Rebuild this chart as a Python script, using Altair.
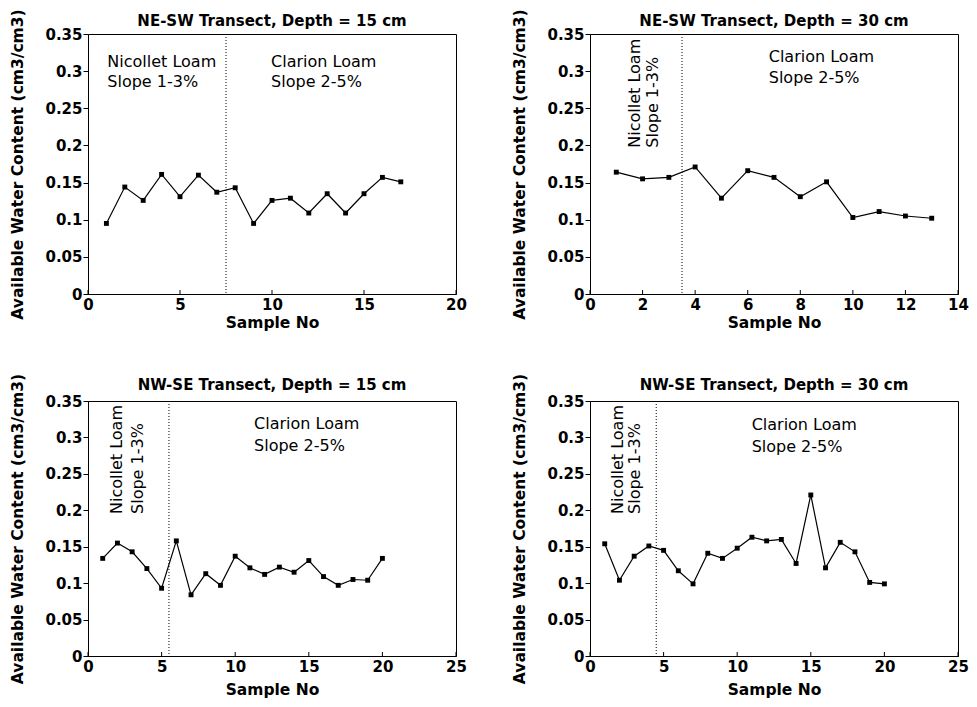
import altair as alt
import pandas as pd

# ---- data ----
ne15 = [0.095, 0.144, 0.126, 0.161, 0.131, 0.160, 0.137, 0.143, 0.095, 0.126,
        0.129, 0.109, 0.135, 0.109, 0.135, 0.157, 0.151]
ne30 = [0.164, 0.155, 0.157, 0.171, 0.129, 0.166, 0.157, 0.131, 0.151, 0.103,
        0.111, 0.105, 0.102]
nw15 = [0.134, 0.155, 0.143, 0.120, 0.093, 0.158, 0.084, 0.113, 0.097, 0.137,
        0.121, 0.112, 0.122, 0.115, 0.131, 0.109, 0.097, 0.105, 0.104, 0.134]
nw30 = [0.154, 0.104, 0.137, 0.151, 0.145, 0.117, 0.099, 0.141, 0.134, 0.148,
        0.163, 0.158, 0.160, 0.127, 0.221, 0.121, 0.156, 0.143, 0.101, 0.099]

titles = ["NE-SW Transect, Depth = 15 cm", "NE-SW Transect, Depth = 30 cm",
          "NW-SE Transect, Depth = 15 cm", "NW-SE Transect, Depth = 30 cm"]
x_max = [20, 14, 25, 25]
x_ticks = [[0, 5, 10, 15, 20], [0, 2, 4, 6, 8, 10, 12, 14],
           [0, 5, 10, 15, 20, 25], [0, 5, 10, 15, 20, 25]]
y_ticks = [0, 0.05, 0.1, 0.15, 0.2, 0.25, 0.3, 0.35]
boundaries = [7.5, 3.5, 5.5, 4.5]

nicollet_lines = ["Nicollet Loam", "Slope 1-3%"]
clarion_lines = ["Clarion Loam", "Slope 2-5%"]
# annotation anchors (data coordinates)
nic_pos = [  # (x1, x2, y1, y2, rotated)
    (1.05, 1.05, 0.312, 0.2855, False),
    (1.73, 2.38, 0.197, 0.197, True),
    (1.98, 3.43, 0.195, 0.195, True),
    (1.93, 3.09, 0.195, 0.195, True),
]
cla_pos = [  # (x, y1, y2)
    (9.95, 0.312, 0.2855),
    (6.8, 0.319, 0.291),
    (11.28, 0.318, 0.288),
    (10.98, 0.3166, 0.287),
]

Y_TITLE = "Available Water Content (cm3/cm3)"
X_TITLE = "Sample No"
W = 368
H_TOP = 260
H_BOT = 255


def panel(i, values, h, x_title_pad):
    xs = alt.Scale(domain=[0, x_max[i]], nice=False, zero=True)
    ys = alt.Scale(domain=[0, 0.35], nice=False, zero=True)
    xax = alt.Axis(values=x_ticks[i], title=X_TITLE, ticks=False, labelFlush=False,
                   labelPadding=3, titlePadding=x_title_pad, format="d")
    yax = alt.Axis(values=y_ticks, title=Y_TITLE, format=".2~f", tickSize=5,
                   labelPadding=1, titlePadding=19)
    df = pd.DataFrame({"x": list(range(1, len(values) + 1)), "y": values})
    base = alt.Chart(df).encode(x=alt.X("x:Q", scale=xs, axis=xax),
                                y=alt.Y("y:Q", scale=ys, axis=yax))
    line = base.mark_line(color="black", strokeWidth=1.2)
    pts = base.mark_square(size=24, color="black", opacity=1)

    vdf = pd.DataFrame({"x": [boundaries[i]]})
    vline = alt.Chart(vdf).mark_rule(color="black", strokeWidth=1, strokeDash=[1, 2]).encode(
        x=alt.X("x:Q", scale=xs, axis=xax))

    tdf = pd.DataFrame({"x": x_ticks[i]})
    xt = alt.Chart(tdf).mark_rule(color="black", strokeWidth=1).encode(
        x=alt.X("x:Q", scale=xs, axis=xax), y=alt.value(h), y2=alt.value(h - 4))

    x1, x2, y1, y2, rot = nic_pos[i]
    ndf = pd.DataFrame({"x": [x1, x2], "y": [y1, y2], "t": nicollet_lines})
    cx, cy1, cy2 = cla_pos[i]
    cdf = pd.DataFrame({"x": [cx, cx], "y": [cy1, cy2], "t": clarion_lines})
    tkw = dict(align="left", baseline="middle", font="DejaVu Sans", fontSize=16, color="black")
    nic = alt.Chart(ndf).mark_text(angle=270 if rot else 0, **tkw).encode(
        x=alt.X("x:Q", scale=xs, axis=xax), y=alt.Y("y:Q", scale=ys, axis=yax), text="t:N")
    cla = alt.Chart(cdf).mark_text(**tkw).encode(
        x=alt.X("x:Q", scale=xs, axis=xax), y=alt.Y("y:Q", scale=ys, axis=yax), text="t:N")

    return alt.layer(vline, xt, line, pts, nic, cla).properties(
        width=W, height=h,
        title=alt.TitleParams(text=titles[i], frame="group", offset=-20))


p1 = panel(0, ne15, H_TOP, 3)
p2 = panel(1, ne30, H_TOP, 3)
p3 = panel(2, nw15, H_BOT, 8)
p4 = panel(3, nw30, H_BOT, 8)

chart = alt.concat(
    p1, p2, p3, p4, columns=2, bounds="flush",
    spacing={"row": 107, "column": 134},
).properties(
    padding={"left": 2, "top": 0, "right": 0, "bottom": 0}
).configure_axis(
    domainColor="black", tickColor="black", grid=False,
    labelFont="DejaVu Sans", labelFontWeight="bold", labelFontSize=15, labelColor="black",
    titleFont="DejaVu Sans", titleFontWeight="bold", titleFontSize=15.5, titleColor="black",
).configure_view(stroke="black", strokeWidth=1).configure_title(
    font="DejaVu Sans", fontSize=15, fontWeight="bold", color="black"
)

chart.save("out.html", embed_options={"renderer": "svg", "actions": False})
